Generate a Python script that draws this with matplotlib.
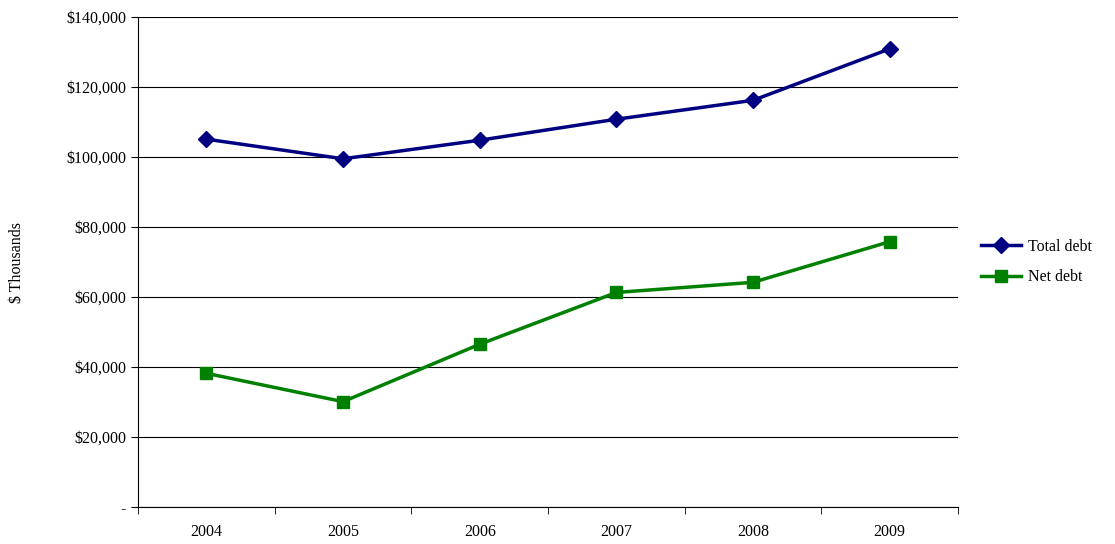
import matplotlib.pyplot as plt
from matplotlib.ticker import FuncFormatter

plt.rcParams['font.family'] = ['Liberation Serif', 'DejaVu Serif']

years = ['2004', '2005', '2006', '2007', '2008', '2009']
total_debt = [105100, 99500, 104800, 110800, 116200, 130900]
net_debt = [38200, 30100, 46500, 61300, 64200, 75800]

fig = plt.figure(figsize=(11.15, 5.44), dpi=100)
ax = fig.add_axes([0.1238, 0.068, 0.7354, 0.9007])

x = list(range(len(years)))
ax.plot(x, total_debt, color='#000080', lw=2.5, marker='D', ms=8, label='Total debt')
ax.plot(x, net_debt, color='#008000', lw=2.5, marker='s', ms=9, label='Net debt')

ax.set_xlim(-0.5, len(years) - 0.5)
ax.set_ylim(0, 140000)
ax.set_yticks(range(0, 140001, 20000))
ax.yaxis.set_major_formatter(FuncFormatter(lambda v, p: '-' if v == 0 else f'${v:,.0f}'))
ax.set_xticks(x)
ax.set_xticklabels(years)
ax.set_xticks([i - 0.5 for i in range(len(years) + 1)], minor=True)
ax.tick_params(axis='x', which='major', length=0, pad=12, labelsize=11.5)
ax.tick_params(axis='x', which='minor', length=5, direction='out')
ax.tick_params(axis='y', length=5, direction='out', labelsize=11.5)
ax.grid(axis='y', color='black', lw=0.8)
ax.set_axisbelow(True)
for s in ['top', 'right']:
    ax.spines[s].set_visible(False)
ax.set_ylabel('$ Thousands', fontsize=11.5, labelpad=30)

ax.legend(loc='center left', bbox_to_anchor=(1.01, 0.5), frameon=False,
          fontsize=11.5, labelspacing=0.9, handlelength=2.5, handletextpad=0.5)

fig.savefig('out.png')
